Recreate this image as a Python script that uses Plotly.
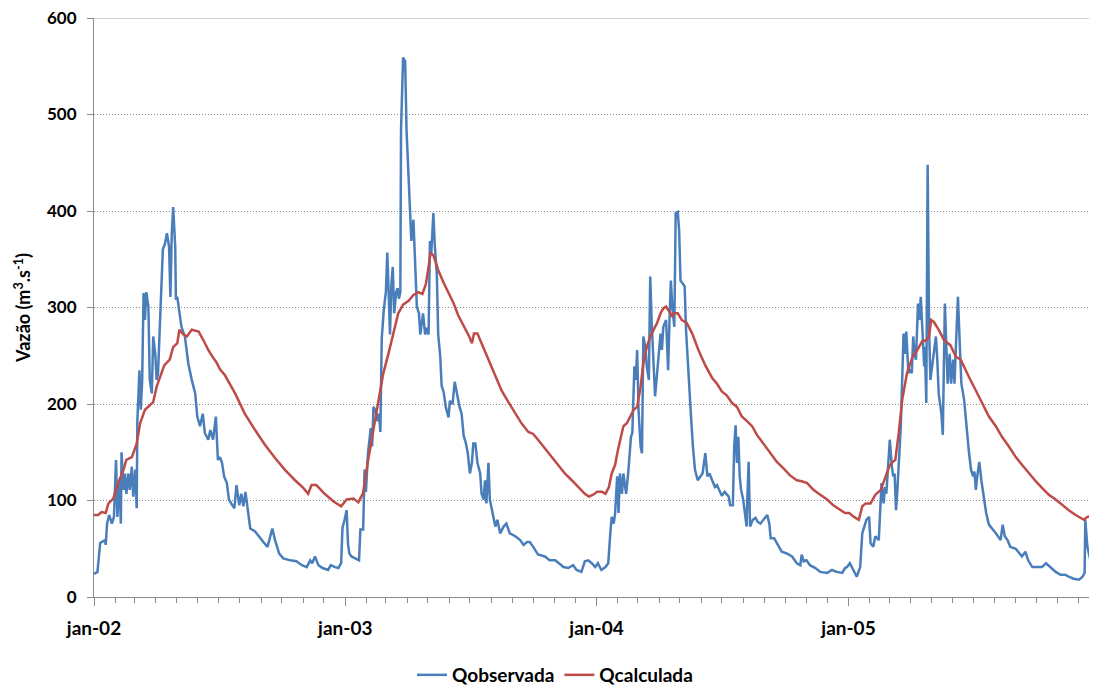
import pandas as pd
import plotly.graph_objects as go

START = "2002-01-01"

# Qobservada: day offset from 2002-01-01 and flow (m3/s)
obs_days_2002 = [0, 5, 9, 16, 17, 19, 22, 26, 29, 32, 34, 37, 39, 40, 43, 45, 47, 50, 52, 55, 57, 60, 62, 63,
                 66, 68, 70, 72, 74, 76, 79, 81, 84, 86, 89, 91, 93, 97, 100, 103, 106, 109, 111, 113, 115,
                 118, 119, 121, 124, 127, 132, 137, 142, 147, 150, 154, 158, 161, 166, 169, 173, 177, 180,
                 183, 186, 189, 193, 196, 201, 204, 207, 211, 214, 217, 220, 223, 227, 234, 239, 246, 252,
                 256, 259, 263, 269, 275, 285, 294, 302, 309, 314, 317, 321, 326, 332, 340, 344, 350, 355, 359]
obs_vals_2002 = [24, 26, 56, 59, 54, 76, 85, 76, 83, 142, 83, 121, 76, 150, 111, 128, 107, 128, 111, 135, 104,
                 132, 92, 183, 235, 194, 225, 315, 287, 316, 301, 225, 211, 270, 252, 225, 232, 315, 360, 366,
                 377, 363, 311, 377, 404, 363, 308, 311, 297, 280, 270, 242, 225, 211, 187, 177, 190, 170, 163,
                 173, 163, 187, 142, 145, 139, 125, 118, 101, 95, 92, 116, 95, 107, 94, 109, 92, 71, 68, 63, 57,
                 52, 63, 71, 59, 45, 40, 38, 37, 33, 31, 38, 35, 42, 33, 30, 28, 33, 31, 30, 35]

obs_days_2003 = [361, 364, 367, 369, 371, 374, 379, 385, 387, 391, 393, 395, 398, 402, 404, 406, 409, 412, 414,
                 416, 418, 421, 424, 426, 428, 430, 432, 434, 436, 439, 441, 443, 445, 446, 449, 452, 454, 457,
                 459, 461, 464, 466, 469, 472, 474, 476, 478, 481, 483, 486, 488, 490, 493, 495, 498, 500, 503,
                 505, 508, 511, 515, 517, 521, 524, 528, 531, 534, 537, 540, 543, 546, 549, 551, 554, 557, 561,
                 563, 566, 568, 570, 573, 575, 579, 583, 586, 590, 595, 599, 604, 612, 619, 624, 629, 633, 638,
                 645, 655, 662, 670, 675, 682, 689, 696, 701, 708, 713, 718, 723, 728]
obs_vals_2003 = [72, 80, 90, 55, 45, 42, 40, 38, 70, 70, 132, 109, 149, 175, 156, 197, 193, 182, 190, 171, 268,
                 298, 316, 357, 316, 272, 324, 342, 294, 316, 320, 309, 316, 484, 559, 555, 484, 436, 395, 369,
                 391, 346, 301, 294, 272, 283, 294, 272, 279, 272, 369, 357, 398, 365, 335, 272, 249, 219, 212,
                 197, 186, 203, 201, 223, 208, 197, 190, 167, 160, 149, 128, 139, 159, 159, 139, 128, 107, 101,
                 121, 97, 139, 101, 87, 73, 80, 66, 73, 76, 66, 63, 59, 54, 57, 57, 52, 44, 42, 38, 38, 35, 31,
                 30, 33, 28, 26, 37, 38, 35, 31]

obs_days_2004 = [732, 737, 743, 747, 750, 752, 755, 757, 760, 762, 764, 767, 769, 773, 776, 778, 780, 782, 785,
                 787, 789, 791, 794, 796, 798, 801, 803, 806, 808, 810, 813, 815, 818, 820, 823, 825, 827, 831,
                 834, 836, 838, 840, 843, 845, 848, 850, 852, 855, 858, 860, 864, 867, 870, 873, 877, 881, 884,
                 888, 891, 894, 898, 902, 905, 909, 912, 916, 919, 922, 924, 928, 930, 932, 934, 936, 938, 940,
                 943, 946, 948, 949, 951, 953, 957, 961, 964, 968, 973, 978, 981, 983, 988, 993, 999, 1007,
                 1014, 1021, 1026, 1028, 1031, 1035, 1040, 1048, 1055, 1065, 1072, 1079, 1087, 1091]
obs_vals_2004 = [35, 28, 31, 35, 66, 83, 76, 87, 125, 87, 128, 107, 128, 107, 128, 145, 166, 170, 239, 225, 256,
                 194, 156, 149, 270, 259, 239, 225, 332, 287, 232, 208, 232, 249, 273, 256, 280, 287, 235, 287,
                 328, 301, 280, 398, 399, 380, 328, 325, 322, 277, 218, 190, 156, 132, 121, 125, 128, 149, 125,
                 128, 121, 114, 116, 109, 105, 109, 106, 104, 95, 95, 156, 178, 139, 166, 125, 111, 101, 87, 73,
                 101, 140, 73, 80, 82, 78, 76, 80, 85, 76, 61, 61, 54, 47, 45, 42, 35, 33, 44, 37, 38, 33, 30,
                 26, 25, 28, 26, 25, 30]

obs_days_2005 = [1094, 1098, 1103, 1108, 1113, 1116, 1119, 1122, 1126, 1128, 1132, 1135, 1140, 1144, 1147, 1149,
                 1151, 1154, 1156, 1159, 1161, 1163, 1165, 1167, 1169, 1172, 1174, 1176, 1178, 1180, 1183, 1185,
                 1188, 1190, 1192, 1194, 1197, 1199, 1201, 1203, 1206, 1207, 1209, 1211, 1213, 1215, 1218, 1220,
                 1223, 1225, 1227, 1231, 1233, 1236, 1238, 1240, 1243, 1245, 1248, 1250, 1252, 1255, 1258, 1260,
                 1264, 1268, 1271, 1274, 1277, 1279, 1281, 1283, 1286, 1289, 1293, 1296, 1300, 1305, 1310, 1315,
                 1317, 1320, 1323, 1327, 1331, 1339, 1344, 1348, 1353, 1357, 1363, 1370, 1377, 1383, 1390, 1397,
                 1404, 1411, 1416, 1423, 1431, 1436, 1439, 1440, 1443, 1446, 1450, 1452, 1455, 1457, 1459]
obs_vals_2005 = [31, 35, 28, 21, 31, 66, 73, 80, 83, 56, 52, 63, 59, 118, 97, 114, 107, 139, 163, 135, 125, 128,
                 90, 111, 135, 177, 225, 273, 252, 275, 232, 235, 232, 270, 252, 246, 304, 287, 311, 280, 239,
                 259, 201, 448, 280, 225, 242, 249, 270, 246, 211, 190, 168, 304, 252, 221, 252, 221, 246, 221,
                 259, 311, 256, 221, 204, 170, 150, 132, 125, 130, 111, 125, 140, 121, 101, 87, 75, 71, 66, 61,
                 59, 75, 63, 59, 52, 50, 45, 42, 47, 38, 31, 31, 31, 35, 30, 26, 23, 23, 21, 19, 18, 21, 25, 80,
                 52, 42, 30, 31, 76, 87, 97]

# Qcalculada
calc_days = [0, 6, 11, 17, 21, 28, 35, 43, 47, 55, 62, 67, 74, 81, 86, 91, 96, 102, 110, 115, 121, 124, 130, 135,
             142, 152, 159, 166, 173, 178, 183, 190, 205, 219, 234, 248, 263, 277, 292, 304, 311, 316, 323, 335,
             348, 359, 367, 377, 384, 391, 398, 406, 413, 420, 428, 435, 442, 449, 457, 464, 471, 477, 482, 486,
             489, 493, 500, 507, 515, 522, 529, 536, 541, 545, 549, 552, 557, 563, 573, 583, 592, 602, 612, 621,
             631, 638, 645, 655, 665, 674, 684, 694, 704, 713, 719, 725, 731, 738, 743, 748, 752, 757, 761, 766,
             769, 774, 779, 784, 789, 794, 798, 803, 808, 813, 818, 823, 827, 831, 835, 840, 843, 848, 854, 861,
             869, 878, 888, 898, 905, 912, 919, 927, 934, 941, 949, 956, 963, 973, 982, 992, 1002, 1011, 1021,
             1028, 1036, 1045, 1055, 1065, 1074, 1084, 1091, 1097, 1104, 1111, 1116, 1121, 1128, 1135, 1143,
             1150, 1155, 1160, 1164, 1169, 1174, 1181, 1189, 1196, 1203, 1209, 1213, 1216, 1220, 1227, 1235,
             1244, 1252, 1259, 1266, 1271, 1281, 1290, 1300, 1310, 1319, 1329, 1339, 1348, 1358, 1368, 1377,
             1387, 1397, 1407, 1416, 1426, 1438, 1443, 1450, 1454, 1456, 1459]
calc_vals = [85, 85, 88, 87, 97, 102, 118, 132, 142, 145, 159, 180, 194, 199, 202, 218, 228, 240, 246, 259, 263,
             277, 272, 270, 277, 275, 266, 256, 248, 243, 236, 230, 211, 190, 173, 158, 144, 132, 121, 113, 107,
             116, 116, 107, 99, 94, 101, 102, 98, 108, 141, 175, 205, 231, 253, 273, 294, 303, 307, 313, 316,
             314, 324, 342, 357, 354, 339, 327, 316, 305, 292, 283, 276, 270, 263, 273, 273, 263, 246, 228, 214,
             202, 190, 180, 171, 169, 163, 154, 145, 137, 128, 121, 114, 107, 104, 106, 109, 109, 107, 114, 128,
             137, 152, 170, 177, 180, 187, 194, 197, 218, 242, 259, 270, 277, 284, 294, 299, 301, 296, 291, 294,
             294, 287, 284, 273, 256, 240, 227, 221, 213, 209, 201, 197, 187, 182, 177, 168, 158, 149, 140, 133,
             126, 121, 120, 118, 111, 106, 101, 95, 90, 87, 87, 83, 80, 94, 97, 97, 106, 111, 125, 135, 140,
             142, 170, 204, 232, 249, 256, 265, 266, 270, 287, 285, 277, 266, 261, 249, 246, 235, 228, 214, 201,
             187, 177, 166, 156, 145, 137, 128, 120, 113, 106, 101, 95, 90, 85, 80, 83, 84, 87, 99, 100]

year_ticks = ["2002-01-01", "2003-01-01", "2004-01-01", "2005-01-01"]
year_labels = ["jan-02", "jan-03", "jan-04", "jan-05"]
y_ticks = [0, 100, 200, 300, 400, 500, 600]


def to_dates(days):
    return pd.Timestamp(START) + pd.to_timedelta(days, unit="D")


obs_days = obs_days_2002 + obs_days_2003 + obs_days_2004 + obs_days_2005
obs_vals = obs_vals_2002 + obs_vals_2003 + obs_vals_2004 + obs_vals_2005

BLUE = "#4A7EBB"
RED = "#BE4B48"
AX = "#8C8C8C"
FONT = "Lato"
BOLD_Y = dict(family=FONT, size=17, color="black", weight="bold")
BOLD_L = dict(family=FONT, size=19, color="black", weight="bold")

fig = go.Figure()
fig.add_trace(go.Scatter(x=to_dates(obs_days), y=obs_vals, mode="lines", name="Qobservada",
                         line=dict(color=BLUE, width=2.5)))
fig.add_trace(go.Scatter(x=to_dates(calc_days), y=calc_vals, mode="lines", name="Qcalculada",
                         line=dict(color=RED, width=2.5)))

fig.add_shape(type="line", xref="paper", yref="y", x0=0, x1=1, y0=600, y1=600,
              line=dict(color="#A6A6A6", width=1), layer="below")

# page body has an 8px margin: figure offset so the plot lands where the reference has it
fig.update_layout(
    width=1089, height=680,
    margin=dict(l=86, r=0, t=10, b=91, autoexpand=False),
    paper_bgcolor="white", plot_bgcolor="white",
    font=dict(family=FONT, size=16, color="black"),
    showlegend=True,
    legend=dict(orientation="h", x=0.4596, y=-0.1347, xanchor="center", yanchor="middle",
                font=BOLD_L, itemwidth=30, tracegroupgap=0),
    xaxis=dict(
        type="date", range=["2002-01-01", "2005-12-28"], automargin=False,
        tickmode="array", tickvals=year_ticks, ticktext=year_labels,
        ticks="outside", ticklen=8, tickcolor=AX, tickwidth=1,
        ticklabelstandoff=6,
        tickfont=BOLD_L,
        showline=True, linecolor=AX, linewidth=1,
        showgrid=False, zeroline=False,
        minor=dict(dtick="M1", tick0="2002-01-01", ticks="outside", ticklen=5,
                   tickcolor=AX, showgrid=False),
    ),
    yaxis=dict(
        range=[0, 600], tickmode="array", tickvals=y_ticks, automargin=False,
        ticks="outside", ticklen=6, tickcolor=AX, ticklabelstandoff=7,
        ticklabeloverflow="allow",
        tickfont=BOLD_Y,
        showline=True, linecolor=AX, linewidth=1,
        showgrid=True, gridcolor="#8A8A8A", griddash="1px,2px", gridwidth=1,
        zeroline=False,
        title=dict(text="Vazão (m<sup>3</sup>.s<sup>-1</sup>)", standoff=11,
                   font=dict(family=FONT, size=18, color="black", weight="bold")),
    ),
)

fig.write_html("out.html")
